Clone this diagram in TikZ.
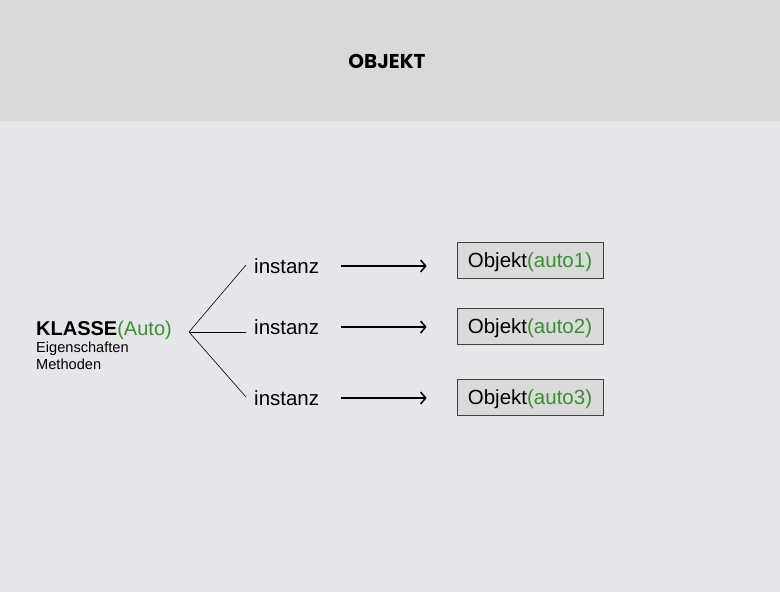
\documentclass[tikz,border=0pt]{standalone}
\usepackage{fontspec}
\setmainfont{Liberation Sans}
\newfontfamily\titlefont{Poppins}
\usepackage{tikz}
\usetikzlibrary{positioning, arrows.meta}
\definecolor{bgpage}{HTML}{E6E5E9}
\definecolor{bghead}{HTML}{D9D9D9}
\definecolor{boxfill}{HTML}{DADADA}
\definecolor{autogreen}{HTML}{3B8F30}
\tikzset{
  instlabel/.style={anchor=west, inner sep=4pt, font=\fontsize{20.5}{24}\selectfont},
  objbox/.style={draw=black!75, fill=boxfill, line width=0.8pt, minimum width=146pt, minimum height=36pt, inner sep=0pt, text height=19pt, text depth=4.3pt, font=\fontsize{20.5}{24}\selectfont},
  conn/.style={line width=0.6pt},
  arr/.style={line width=1.5pt, -{Straight Barb[length=5pt, width=12pt]}}
}
\begin{document}
\begin{tikzpicture}[x=1pt, y=-1pt]
% background and header band
\fill[bgpage] (0,0) rectangle (780,592);
\fill[bghead] (0,0) rectangle (780,121);
\useasboundingbox (0,0) rectangle (780,592);
\node[font=\titlefont\bfseries\fontsize{20}{24}\selectfont] (title) at (387,61) {OBJEKT};
% class on the left
\node[anchor=base west, inner sep=0pt, font=\fontsize{20}{24}\selectfont] (klasse) at (36,335) {\textbf{KLASSE}\textcolor{autogreen}{(Auto)}};
\node[anchor=north west, inner sep=0pt, align=left, font=\fontsize{14.6}{17}\selectfont] (props) at (36,341.5) {Eigenschaften\\Methoden};
\coordinate (split) at (189,332);
% instances and objects
\foreach \n/\iy/\by/\dy in {1/266/260/1, 2/327/326.5/-5, 3/398/397.5/1}{
  \node[instlabel] (inst\n) at (250,\iy) {instanz};
  \node[objbox] (obj\n) at (530,\by) {Objekt\textcolor{autogreen}{(auto\n)}};
  \draw[conn] (split) -- ([shift={(-4pt,\dy pt)}]inst\n.west);
  \draw[arr, shorten <=18pt, shorten >=30pt] (inst\n.east) -- (inst\n.east -| obj\n.west);
}
\end{tikzpicture}
\end{document}
